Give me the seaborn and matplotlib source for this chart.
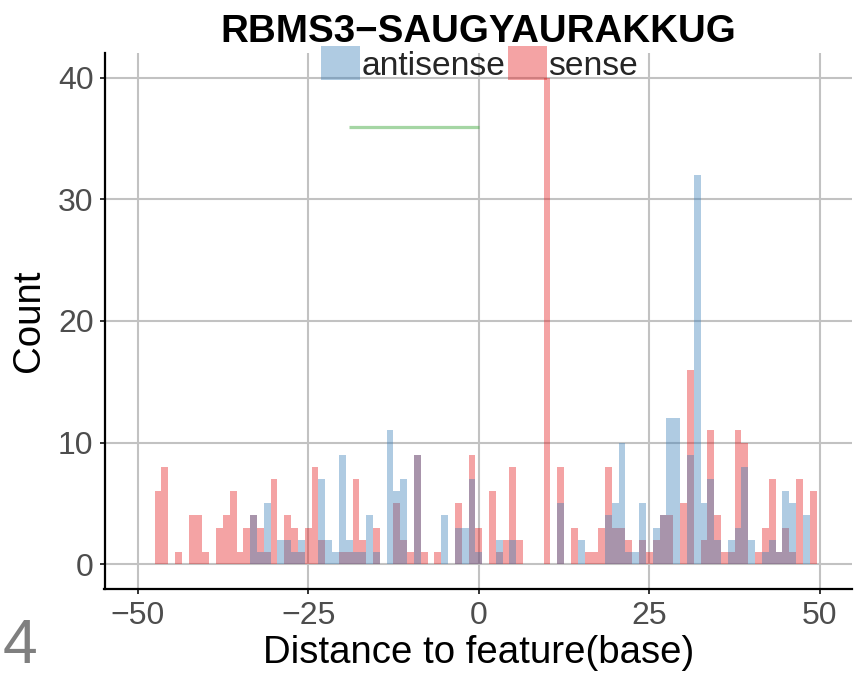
import numpy as np
import pandas as pd
import matplotlib
matplotlib.use("Agg")
import matplotlib.pyplot as plt
from matplotlib.patches import Patch
import seaborn as sns

# ---- data ----
positions = list(range(-47, 50))
sense = [6, 8, 0, 1, 0, 4, 4, 1, 0, 3,
         4, 6, 1, 3, 4, 3, 1, 7, 0, 4,
         3, 1, 3, 8, 2, 0, 0, 1, 1, 7,
         2, 0, 3, 0, 0, 5, 2, 1, 9, 1,
         0, 1, 0, 0, 5, 0, 9, 3, 0, 6,
         1, 2, 8, 2, 0, 0, 0, 40, 0, 8,
         0, 3, 0, 1, 1, 3, 8, 3, 3, 2,
         0, 2, 1, 2, 4, 4, 0, 5, 16, 0,
         2, 11, 4, 1, 1, 11, 10, 0, 1, 3,
         7, 1, 3, 1, 7, 0, 6]
antisense = [0, 0, 0, 0, 0, 0, 0, 0, 0, 0,
             0, 0, 0, 0, 4, 1, 5, 0, 2, 2,
             1, 2, 0, 0, 7, 2, 1, 9, 2, 1,
             1, 4, 1, 0, 11, 6, 7, 0, 9, 0,
             0, 0, 4, 0, 3, 3, 7, 1, 0, 0,
             2, 0, 2, 0, 0, 0, 0, 0, 0, 5,
             0, 0, 2, 0, 0, 0, 4, 5, 10, 1,
             1, 5, 0, 3, 4, 12, 12, 0, 9, 32,
             5, 7, 2, 0, 2, 3, 8, 2, 0, 1,
             2, 1, 6, 5, 0, 4, 0]
strands = ["antisense", "sense"]
motif_x = [-19, 0]
motif_y = [36, 36]
title = "RBMS3\u2212SAUGYAURAKKUG"
x_ticks = [-50, -25, 0, 25, 50]
y_ticks = [0, 10, 20, 30, 40]

df = pd.DataFrame({
    "position": positions * 2,
    "count": antisense + sense,
    "strand": ["antisense"] * len(positions) + ["sense"] * len(positions),
})
palette = {"antisense": "#377EB8", "sense": "#E41A1C"}

sns.set_theme(style="white")
plt.rcParams["font.family"] = ["Liberation Sans", "DejaVu Sans"]

W, H = 866, 676
fig = plt.figure(figsize=(W / 100, H / 100), dpi=100)
L, R, B, T = 104.5, 852, 589, 53
ax = fig.add_axes([L / W, 1 - B / H, (R - L) / W, (B - T) / H])
ax.set_axisbelow(True)

sns.histplot(data=df, x="position", weights="count", hue="strand",
             hue_order=strands, palette=palette, discrete=True,
             multiple="layer", alpha=0.4, linewidth=0, ax=ax, legend=False)
sns.lineplot(x=motif_x, y=motif_y, color="#4DAF4A", alpha=0.5, linewidth=2.3,
             ax=ax, solid_capstyle="butt")

ax.set_xlim(-54.85, 54.7)
ax.set_ylim(-2.05, 42.05)
ax.set_xticks(x_ticks)
ax.set_yticks(y_ticks)
ax.grid(True, color="#C2C2C2", linewidth=1.5)
for s in ["top", "right"]:
    ax.spines[s].set_visible(False)
for s in ["left", "bottom"]:
    ax.spines[s].set_color("black")
    ax.spines[s].set_linewidth(1.6)
ax.tick_params(axis="both", which="major", length=3.6, width=1.4,
               color="#333333", labelcolor="#4D4D4D", labelsize=23,
               bottom=True, left=True)
ax.tick_params(axis="x", pad=5.0)
ax.tick_params(axis="y", pad=4.3)

ax.set_xlabel("Distance to feature(base)", fontsize=27.6, color="black")
ax.set_ylabel("Count", fontsize=27.6, color="black")
ax.xaxis.label.set_va("baseline")
ax.xaxis.set_label_coords(0.5, (B - 663) / (B - T))
ax.yaxis.set_label_coords((47 - L) / (R - L), 0.5)

fig.text((L + R) / 2 / W, 1 - 42 / H, title, ha="center", va="baseline",
         fontsize=27.7, fontweight="bold", color="black")
fig.text(3 / W, 1 - 663 / H, "4", ha="left", va="baseline",
         fontsize=45, color="#7F7F7F")

handles = [Patch(facecolor=palette[s], alpha=0.4, edgecolor="none") for s in strands]
fig.legend(handles, strands, loc="center", bbox_to_anchor=(479.5 / W, 1 - 64 / H),
           ncol=2, frameon=False, fontsize=24.2, handlelength=1.16,
           handleheight=1.16, handletextpad=0.05, columnspacing=0.08,
           borderpad=0, borderaxespad=0)

fig.savefig("out.png", dpi=100)
